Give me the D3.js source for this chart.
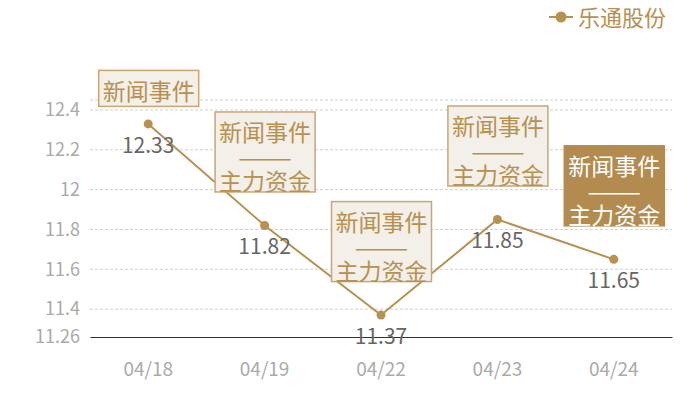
<!DOCTYPE html>
<html lang="zh">
<head>
<meta charset="UTF-8">
<script src="https://d3js.org/d3.v7.min.js"></script>
<title>乐通股份</title>
<style>
body { margin: 0; background: #fff; }
text { font-family: "Noto Sans CJK SC", "Noto Sans", sans-serif; }
</style>
</head>
<body>
<script>

var categories = ["04/18", "04/19", "04/22", "04/23", "04/24"];
var prices = [12.33, 11.82, 11.37, 11.85, 11.65];
var yTicks = [11.26, 11.4, 11.6, 11.8, 12, 12.2, 12.4];
var yMax = 12.45;
var notes = [
  ["新闻事件"],
  ["新闻事件", "——", "主力资金"],
  ["新闻事件", "——", "主力资金"],
  ["新闻事件", "——", "主力资金"],
  ["新闻事件", "——", "主力资金"]
];
var highlighted = 4;
var seriesName = "乐通股份";

var width = 700,
    height = 400,
    margin = {top: 100, right: 28, bottom: 63, left: 90};

var gold = "#b8914f";

var svg = d3.select("body").append("svg")
    .attr("width", width)
    .attr("height", height);

var x = d3.scaleBand()
    .domain(categories)
    .range([margin.left, width - margin.right]);

var y = d3.scaleLinear()
    .domain([yTicks[0], yMax])
    .range([height - margin.bottom, margin.top]);

// grid
svg.append("g")
  .selectAll("line")
  .data(yTicks.slice(1).concat([yMax]))
  .enter().append("line")
    .attr("x1", margin.left)
    .attr("x2", width - margin.right)
    .attr("y1", function(d) { return y(d); })
    .attr("y2", function(d) { return y(d); })
    .attr("stroke", "#cfcfcf")
    .attr("stroke-dasharray", "3,2");

// y axis labels
var yAxis = svg.append("g")
    .attr("transform", "translate(" + margin.left + ",0)")
    .call(d3.axisLeft(y).tickValues(yTicks).tickSize(0).tickPadding(10).tickFormat(function(d) { return d3.format("")(+d.toFixed(2)); }));
yAxis.select(".domain").remove();
yAxis.selectAll("text")
    .attr("fill", "#aaa")
    .style("font-size", "18px");

// x axis
var xAxis = svg.append("g")
    .attr("transform", "translate(0," + y(yTicks[0]) + ")")
    .call(d3.axisBottom(x).tickSize(0).tickPadding(26));
xAxis.select(".domain").attr("stroke", "#333").attr("stroke-width", 1.2);
xAxis.selectAll("text")
    .attr("fill", "#aaa")
    .style("font-size", "19px");

var cx = function(d, i) { return x(categories[i]) + x.bandwidth() / 2; };

// line
svg.append("path")
    .datum(prices)
    .attr("fill", "none")
    .attr("stroke", gold)
    .attr("stroke-width", 2)
    .attr("d", d3.line().x(cx).y(function(d) { return y(d); }));

svg.append("g")
  .selectAll("circle")
  .data(prices)
  .enter().append("circle")
    .attr("cx", cx)
    .attr("cy", function(d) { return y(d); })
    .attr("r", 4.5)
    .attr("fill", gold);

svg.append("g")
  .selectAll("text")
  .data(prices)
  .enter().append("text")
    .attr("x", cx)
    .attr("y", function(d) { return y(d) + 29; })
    .attr("text-anchor", "middle")
    .attr("fill", "#666")
    .style("font-size", "21px")
    .text(function(d) { return d.toFixed(2); });

// annotation boxes
var boxW = 100;
var boxH = function(d) { return 36 + (d.length - 1) * 22; };
var note = svg.append("g")
  .selectAll("g")
  .data(notes)
  .enter().append("g")
    .attr("transform", function(d, i) {
      var off = d.length === 1 ? 18 : 34;
      return "translate(" + (cx(null, i) - boxW / 2) + "," + (y(prices[i]) - off - boxH(d)) + ")";
    });

note.append("rect")
    .attr("x", 0.5)
    .attr("y", 0.5)
    .attr("width", boxW)
    .attr("height", boxH)
    .attr("fill", function(d, i) { return i === highlighted ? "#b38b4e" : "#f3efe9"; })
    .attr("stroke", function(d, i) { return i === highlighted ? "#b38b4e" : "#c9a672"; })
    .attr("stroke-width", 1.5);

note.each(function(d, i) {
  d3.select(this).selectAll("text")
    .data(d)
    .enter().append("text")
      .attr("x", boxW / 2 + 0.5)
      .attr("y", function(t, j) { return 30 + j * 24.5; })
      .attr("text-anchor", "middle")
      .attr("fill", i === highlighted ? "#fff" : gold)
      .style("font-size", "23px")
      .each(function(t) {
        if (t === "——") {
          d3.select(this).attr("textLength", 54).attr("lengthAdjust", "spacingAndGlyphs");
        }
      })
      .text(function(t) { return t; });
});

// legend
var legend = svg.append("g").attr("transform", "translate(549,17)");
legend.append("line")
    .attr("x1", 0).attr("x2", 24)
    .attr("stroke", gold).attr("stroke-width", 2);
legend.append("circle")
    .attr("cx", 12).attr("r", 5.5)
    .attr("fill", gold);
legend.append("text")
    .attr("x", 29)
    .attr("y", 9)
    .attr("fill", gold)
    .style("font-size", "22px")
    .text(seriesName);

</script>
</body>
</html>
